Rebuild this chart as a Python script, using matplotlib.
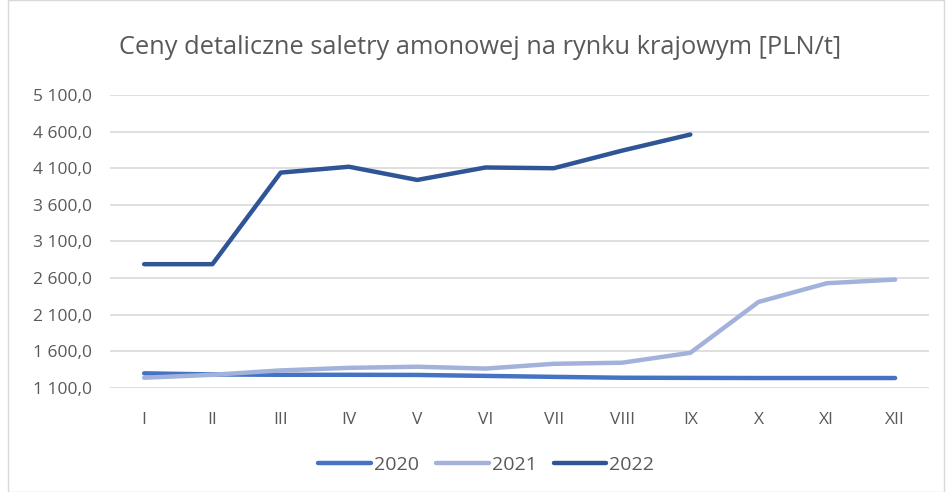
import matplotlib.pyplot as plt
from matplotlib.ticker import FuncFormatter

# miesiące
months = ['I', 'II', 'III', 'IV', 'V', 'VI', 'VII', 'VIII', 'IX', 'X', 'XI', 'XII']

# ceny [PLN/t]
prices_2020 = [1300, 1285, 1280, 1280, 1278, 1265, 1252, 1240, 1238, 1236, 1236, 1236]
prices_2021 = [1240, 1280, 1340, 1375, 1390, 1365, 1430, 1445, 1580, 2275, 2530, 2580]
prices_2022 = [2790, 2790, 4040, 4120, 3940, 4110, 4100, 4340, 4560]

years = ['2020', '2021', '2022']
colors = ['#4472C4', '#A2B2DA', '#2F5597']

plt.rcParams['font.family'] = ['Open Sans', 'DejaVu Sans']

fig = plt.figure(figsize=(9.46, 4.92), dpi=100)
ax = fig.add_axes([0.1163, 0.2114, 0.866, 0.5956])

x = list(range(len(months)))
for year, vals, c in zip(years, [prices_2020, prices_2021, prices_2022], colors):
    ax.plot(x[:len(vals)], vals, color=c, linewidth=3.2, label=year,
            solid_capstyle='round', solid_joinstyle='round')

ax.set_ylim(1100, 5100)
ax.set_yticks(range(1100, 5101, 500))
ax.set_xlim(-0.5, 11.5)
ax.set_xticks(x)
ax.set_xticklabels(months)

def pl_format(v, pos):
    return f'{v:,.1f}'.replace(',', ' ').replace('.', ',')

ax.yaxis.set_major_formatter(FuncFormatter(pl_format))
ax.grid(axis='y', color='#D9D9D9', linewidth=1.2)
ax.set_axisbelow(True)
for s in ax.spines.values():
    s.set_visible(False)
ax.tick_params(length=0, colors='#595959', labelsize=12.5)
ax.tick_params(axis='y', pad=13)
ax.tick_params(axis='x', pad=17)

fig.text(0.5074, 0.904, 'Ceny detaliczne saletry amonowej na rynku krajowym [PLN/t]',
         ha='center', va='center', fontsize=18.3, color='#595959')

fig.legend(loc='center', bbox_to_anchor=(0.514, 0.055), ncol=3, frameon=False,
           fontsize=14, labelcolor='#595959', handlelength=2.7,
           handletextpad=0.15, columnspacing=0.9)

# ramka wykresu
fig.patches.append(plt.Rectangle((0.008, 0.0), 0.99, 0.999, transform=fig.transFigure,
                                 fill=False, edgecolor='#D9D9D9', linewidth=1))

fig.savefig('out.png', dpi=100)
